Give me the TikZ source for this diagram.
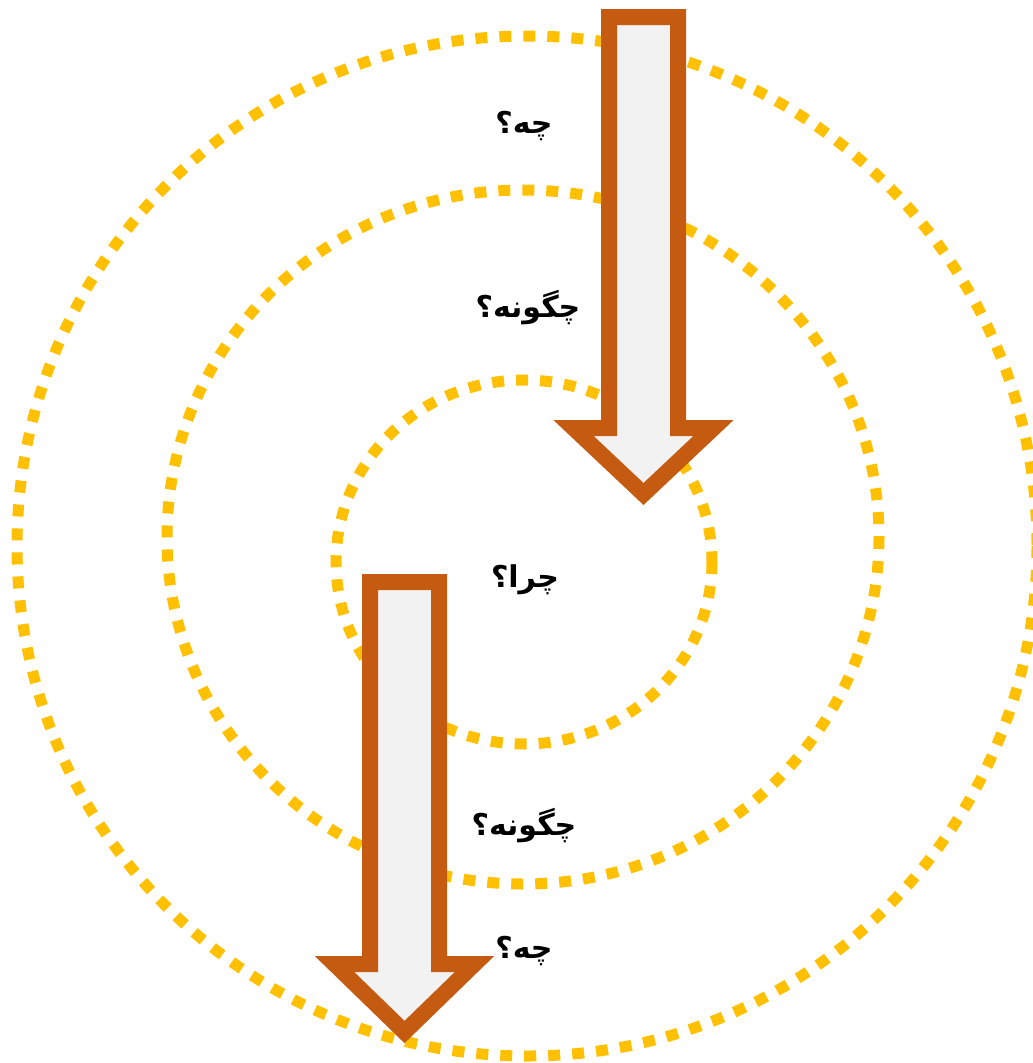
\documentclass[tikz,border=0pt]{standalone}
\usepackage{fontspec}
\newfontfamily\arabicfont[Script=Arabic]{DejaVu Sans}
\TeXXeTstate=1
\usetikzlibrary{calc,positioning}
\definecolor{ringyellow}{HTML}{FFC000}
\definecolor{arroworange}{HTML}{C55A11}
\definecolor{arrowfill}{HTML}{F2F2F2}
\tikzset{
  ring/.style={ringyellow, line width=11pt, dash pattern=on 12pt off 12pt},
  bigarrow/.style={arroworange, line width=16pt, fill=arrowfill, line join=miter},
  question/.style={font=\arabicfont\bfseries\fontsize{30}{36}\selectfont, inner sep=0pt}
}
\begin{document}
\begin{tikzpicture}[x=1pt, y=-1pt]
  \useasboundingbox (0,0) rectangle (1033,1063);

  % dotted rings
  \draw [ring] (527,546) circle [radius=510];
  \draw [ring] (523,537) ellipse [x radius=356, y radius=347];
  \draw [ring] (524,562) ellipse [x radius=188, y radius=182];

  % upper arrow
  \draw [bigarrow]
    (609,17)
    -- ++(69,0)
    -- ++(0,411)
    -- ++(35.5,0)
    -- ++(-70,66)
      coordinate (upper tip)
    -- ++(-70,-66)
    -- ++(35.5,0)
    -- cycle
  ;
  % lower arrow
  \draw [bigarrow]
    (370,582)
    -- ++(69,0)
    -- ++(0,382)
    -- ++(35.5,0)
    -- ++(-70,68)
      coordinate (lower tip)
    -- ++(-70,-68)
    -- ++(35.5,0)
    -- cycle
  ;

  % questions
  \node [question] (what top) at (524,126) {\beginR چه؟\endR};
  \node [question] (how top) at (528,308) {\beginR چگونه؟\endR};
  \node [question] (why) at (525,580) {\beginR چرا؟\endR};
  \node [question] (how bottom) at (524,826) {\beginR چگونه؟\endR};
  \node [question] (what bottom) at (524,951) {\beginR چه؟\endR};
\end{tikzpicture}
\end{document}
